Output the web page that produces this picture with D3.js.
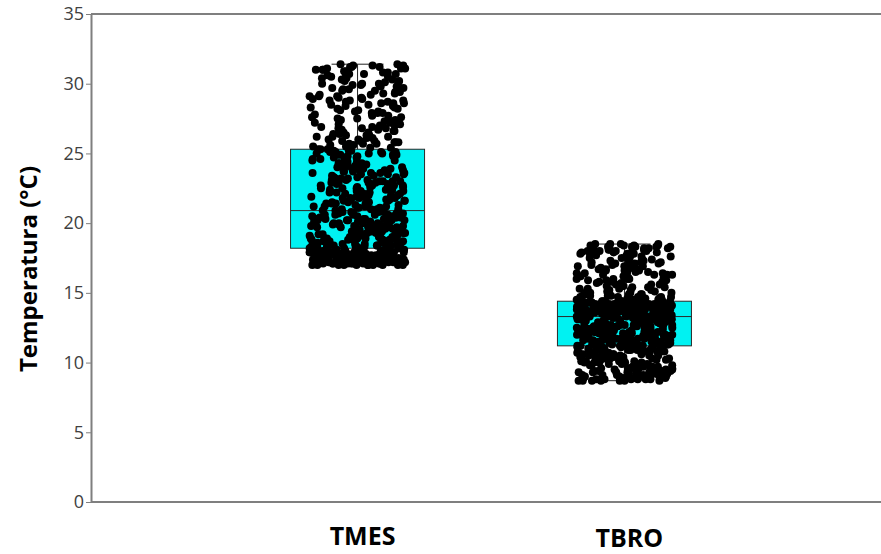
<!DOCTYPE html>
<html>
<head>
<meta charset="utf-8">
<script src="https://cdn.jsdelivr.net/npm/d3@7"></script>
<style>
    body { margin: 0; background: #fff; }
    svg { display: block; }
</style>
</head>
<body>
<div id="chart"></div>
<script>
var width = 881, height = 554;

// groups and box summary
var categories = ["TMES", "TBRO"];
var boxQ1 = [18.2, 11.2];
var boxMedian = [20.9, 13.3];
var boxQ3 = [25.3, 14.4];
var whiskerLow = [17.0, 8.7];
var whiskerHigh = [31.4, 18.5];
var yTicks = [0, 5, 10, 15, 20, 25, 30, 35];

// individual observations (estimated from the dot cloud)
var tmesValues = [
    17.3, 17.9, 17.1, 18.0, 17.6, 17.2, 17.8, 17.4, 18.1, 17.0, 17.7, 17.5, 17.2, 17.9, 17.3, 18.2, 17.6, 17.1, 17.8, 17.4,
    17.5, 17.0, 17.7, 18.0, 17.3, 17.2, 17.9, 17.6, 17.4, 18.1, 17.1, 17.8, 17.5, 17.2, 17.6, 17.9, 17.0, 17.3, 18.0, 17.7,
    17.4, 17.1, 17.8, 17.2, 17.5, 18.1, 17.6, 17.3, 17.9, 17.0, 17.4, 17.7, 18.2, 17.2, 17.5, 17.1, 17.8, 17.6, 17.3, 17.9,
    17.0, 17.4, 18.0, 17.7, 17.2, 17.5, 17.1, 17.8, 17.3, 17.6, 18.1, 17.4, 17.0, 17.9, 17.2, 17.5, 17.7, 17.3, 17.8, 17.1,
    17.6, 18.0, 17.4, 17.2, 17.9, 17.5, 17.0, 17.7, 17.3, 18.2, 17.1, 17.6, 17.8, 17.4, 17.2, 17.5, 17.9, 17.3, 17.0, 17.7,
    18.5, 19.7, 20.3, 18.9, 19.2, 20.8, 18.3, 19.9, 20.5, 18.7, 19.4, 20.1, 18.4, 19.6, 20.7, 19.0, 18.6, 20.2, 19.3, 20.6,
    18.8, 19.8, 20.4, 18.2, 19.1, 20.0, 18.5, 19.5, 20.9, 18.9, 19.7, 20.3, 18.3, 19.2, 20.6, 18.7, 19.9, 20.1, 18.4, 19.4,
    20.8, 18.6, 19.6, 20.2, 19.0, 18.8, 20.5, 19.3, 18.3, 20.7, 19.8, 18.5, 20.0, 19.1, 18.9, 20.4, 19.5, 18.4, 20.9, 19.7,
    18.2, 20.3, 19.2, 18.7, 20.6, 19.9, 18.6, 20.1, 19.4, 18.8, 20.8, 19.0, 18.3, 20.5, 19.6, 18.9, 20.2, 19.3, 18.5, 20.7,
    19.8, 18.4, 20.0, 19.1, 18.6, 20.4, 19.5, 18.8, 20.9, 19.7, 18.3, 20.3, 19.2, 18.7, 20.1, 19.9, 18.5, 20.6, 19.4, 18.9,
    21.4, 23.8, 22.1, 24.9, 21.0, 23.2, 24.5, 22.7, 21.8, 25.1, 22.4, 23.5, 21.2, 24.2, 22.9, 21.6, 25.3, 23.0, 24.7, 22.2,
    21.9, 24.0, 23.6, 21.3, 22.6, 25.0, 23.3, 21.7, 24.4, 22.0, 23.9, 21.1, 24.8, 22.5, 23.1, 21.5, 25.2, 22.8, 24.1, 23.4,
    21.0, 22.3, 24.6, 23.7, 21.8, 25.1, 22.1, 24.3, 21.4, 23.0, 24.9, 22.7, 21.2, 23.6, 24.0, 22.4, 21.6, 25.3, 23.2, 22.9,
    24.5, 21.3, 23.8, 22.0, 24.2, 21.9, 23.3, 25.0, 22.6, 21.5, 24.7, 23.5, 22.2, 21.1, 24.4, 23.9, 22.8, 21.7, 25.2, 23.1,
    22.5, 24.1, 21.4, 23.7, 24.8, 22.3, 21.0, 23.4, 24.6, 22.9, 21.8, 25.1, 23.0, 22.1, 24.3, 21.6, 23.6, 24.9, 22.7, 21.2,
    26.8, 29.4, 25.6, 30.7, 27.9, 28.5, 25.9, 31.2, 27.1, 29.9, 26.3, 28.8, 30.2, 25.4, 27.6, 29.1, 31.0, 26.6, 28.2, 30.5,
    25.8, 27.3, 29.6, 26.1, 31.4, 28.0, 30.0, 26.9, 27.7, 29.3, 25.5, 30.8, 28.6, 26.4, 31.1, 27.4, 29.7, 25.7, 28.3, 30.3,
    26.7, 29.0, 27.2, 31.3, 25.9, 28.9, 30.6, 26.2, 27.8, 29.5, 25.6, 30.1, 28.4, 26.5, 31.2, 27.0, 29.8, 26.0, 28.7, 30.9,
    25.4, 27.5, 29.2, 26.8, 30.4, 28.1, 31.0, 25.8, 27.9, 29.4, 26.3, 30.7, 28.5, 27.1, 31.4, 25.7, 29.6, 26.6, 28.0, 30.2,
    27.6, 25.5, 29.1, 26.9, 30.8, 28.2, 31.3, 26.1, 27.3, 29.9, 25.6, 30.5, 28.8, 26.4, 31.1, 27.7, 29.0, 26.2, 28.6, 30.0,
    17.2, 17.6, 17.0, 17.9, 17.4, 18.1, 17.3, 17.7, 17.1, 17.8, 17.5, 18.0, 17.2, 17.6, 17.4, 17.9, 17.0, 17.3, 17.7, 18.2,
    17.1, 17.5, 17.8, 17.3, 17.6, 17.0, 17.9, 17.4, 18.1, 17.2, 17.7, 17.5, 17.1, 18.0, 17.4, 17.8, 17.3, 17.6, 17.2, 17.9,
    19.1, 20.5, 18.4, 19.8, 20.2, 18.7, 19.4, 20.8, 18.3, 19.6, 20.0, 18.9, 19.3, 20.6, 18.5, 19.9, 20.3, 18.8, 19.2, 20.7,
    18.6, 19.5, 20.1, 18.2, 19.7, 20.4, 18.9, 19.0, 20.9, 18.4, 19.6, 20.2, 18.7, 19.3, 20.5, 18.5, 19.8, 20.0, 18.3, 19.4,
    22.4, 24.6, 21.1, 23.3, 25.0, 21.7, 22.9, 24.1, 21.3, 23.8, 22.2, 24.8, 21.5, 23.0, 25.2, 22.6, 21.9, 24.3, 23.5, 22.0,
    21.2, 24.7, 23.1, 22.8, 25.1, 21.6, 23.9, 22.3, 24.4, 21.0, 23.6, 22.5, 24.9, 21.8, 23.2, 24.0, 22.7, 21.4, 25.3, 23.7,
    28.4, 30.6, 26.0, 29.3, 27.5, 31.2, 25.7, 28.9, 30.1, 26.7, 29.8, 27.2, 31.0, 25.9, 28.6, 30.4, 26.5, 29.5, 27.8, 30.9,
    28.1, 26.2, 29.1, 31.3, 27.0, 30.3, 25.5, 28.7, 29.7, 26.8, 31.1, 27.4, 30.0, 28.3, 26.3, 29.2, 30.7, 27.9, 25.8, 28.8
];

var tbroValues = [
    9.4, 10.6, 8.9, 11.0, 9.8, 10.2, 8.7, 10.9, 9.2, 10.4, 9.6, 11.2, 8.8, 10.0, 9.5, 10.7, 9.1, 10.3, 9.9, 8.9,
    10.8, 9.3, 10.1, 8.7, 11.1, 9.7, 10.5, 9.0, 10.9, 9.4, 8.8, 10.6, 9.8, 11.0, 9.2, 10.2, 9.6, 8.9, 10.4, 9.1,
    11.2, 9.5, 10.0, 8.7, 10.7, 9.3, 10.3, 9.9, 8.8, 11.1, 9.6, 10.8, 9.0, 10.1, 9.4, 10.5, 8.9, 9.7, 11.0, 9.2,
    10.6, 9.8, 8.7, 10.9, 9.1, 10.2, 9.5, 11.2, 8.8, 10.4, 9.3, 10.0, 9.9, 8.9, 10.7, 9.6, 11.1, 9.0, 10.3, 9.4,
    8.8, 10.8, 9.7, 10.1, 9.2, 11.0, 8.9, 10.5, 9.5, 10.6, 9.0, 8.7, 10.9, 9.8, 10.2, 9.3, 11.2, 9.1, 10.4, 9.6,
    11.8, 12.6, 11.3, 13.1, 12.2, 11.6, 12.9, 11.4, 12.4, 13.3, 11.9, 12.0, 11.5, 12.8, 13.0, 11.7, 12.3, 11.2, 12.7, 13.2,
    12.1, 11.6, 12.5, 11.3, 13.1, 12.9, 11.8, 12.2, 11.4, 12.6, 13.0, 11.9, 12.4, 11.5, 13.3, 12.0, 11.7, 12.8, 11.2, 12.3,
    13.2, 11.6, 12.7, 12.1, 11.3, 12.5, 13.0, 11.8, 12.9, 11.4, 12.2, 13.1, 11.9, 12.6, 11.5, 12.4, 13.3, 11.7, 12.0, 12.8,
    11.2, 12.3, 13.2, 11.6, 12.7, 11.8, 12.1, 13.0, 11.3, 12.5, 11.9, 12.9, 11.4, 12.2, 13.1, 11.7, 12.6, 11.5, 12.4, 13.3,
    12.0, 11.8, 12.8, 11.6, 13.2, 12.3, 11.3, 12.7, 11.9, 12.1, 13.0, 11.4, 12.5, 11.7, 12.9, 11.2, 12.2, 13.1, 11.5, 12.6,
    13.7, 14.1, 13.4, 13.9, 14.3, 13.5, 14.0, 13.8, 14.4, 13.6, 13.3, 14.2, 13.9, 13.5, 14.1, 13.7, 14.3, 13.4, 14.0, 13.6,
    13.8, 14.2, 13.3, 13.9, 14.4, 13.5, 14.1, 13.7, 13.4, 14.0, 13.6, 14.3, 13.8, 14.2, 13.5, 13.9, 14.1, 13.3, 14.4, 13.7,
    13.6, 14.0, 13.4, 14.2, 13.8, 13.5, 14.3, 13.9, 14.1, 13.7, 13.3, 14.4, 13.6, 14.0, 13.8, 13.4, 14.2, 13.9, 13.5, 14.1,
    14.3, 13.7, 14.0, 13.6, 13.4, 14.4, 13.8, 14.2, 13.5, 13.9, 14.1, 13.3, 13.7, 14.3, 13.6, 14.0, 13.8, 13.4, 14.2, 13.9,
    13.5, 14.1, 13.7, 14.4, 13.3, 13.9, 14.0, 13.6, 14.3, 13.8, 13.4, 14.2, 13.5, 14.1, 13.7, 13.9, 14.4, 13.6, 14.0, 13.8,
    15.2, 17.6, 14.7, 16.3, 18.1, 15.8, 14.5, 17.0, 16.6, 18.4, 15.0, 17.3, 14.9, 16.0, 17.9, 15.5, 18.5, 16.8, 14.6, 17.4,
    16.2, 18.0, 15.3, 17.7, 14.8, 16.5, 18.3, 15.7, 17.1, 14.5, 16.9, 18.2, 15.1, 17.5, 16.1, 14.7, 17.8, 15.9, 18.4, 16.4,
    15.4, 17.2, 14.6, 18.1, 16.7, 15.6, 17.9, 14.9, 16.3, 18.5, 15.0, 17.6, 16.0, 14.5, 18.2, 15.8, 17.3, 16.6, 14.8, 17.0,
    18.3, 15.2, 16.8, 17.7, 14.6, 16.2, 18.0, 15.5, 17.4, 14.7, 16.5, 18.4, 15.3, 17.1, 16.9, 14.9, 17.8, 15.7, 18.1, 16.1,
    15.9, 17.5, 14.5, 18.3, 16.4, 15.1, 17.2, 16.7, 14.8, 18.5, 15.4, 17.9, 16.0, 14.6, 18.2, 15.6, 17.6, 16.3, 14.7, 18.0,
    9.3, 10.5, 8.8, 10.9, 9.7, 10.1, 9.0, 11.1, 9.5, 10.3, 8.9, 10.7, 9.2, 10.0, 9.8, 11.0, 8.7, 10.4, 9.4, 10.8,
    9.1, 9.9, 10.6, 8.8, 11.2, 9.6, 10.2, 9.0, 10.9, 9.3, 8.9, 10.5, 9.7, 11.1, 9.5, 10.0, 8.7, 10.7, 9.2, 10.3,
    12.3, 11.5, 12.9, 11.8, 13.2, 12.0, 11.3, 12.6, 13.0, 11.7, 12.4, 11.4, 12.8, 13.3, 11.9, 12.2, 11.6, 12.7, 13.1, 12.1,
    11.2, 12.5, 11.8, 13.0, 12.9, 11.5, 12.3, 11.7, 13.2, 12.0, 11.4, 12.6, 11.9, 12.8, 11.3, 12.4, 13.1, 11.6, 12.2, 12.7,
    13.8, 14.2, 13.5, 14.0, 13.4, 14.3, 13.7, 13.9, 14.1, 13.6, 14.4, 13.3, 13.8, 14.0, 13.5, 14.2, 13.7, 13.4, 14.3, 13.9,
    13.6, 14.1, 13.8, 14.4, 13.5, 13.3, 14.0, 13.7, 14.2, 13.9, 13.4, 14.3, 13.6, 14.1, 13.8, 13.5, 14.0, 13.7, 14.4, 13.9,
    17.1, 15.6, 18.2, 16.4, 14.8, 17.7, 15.3, 18.0, 16.9, 14.6, 17.4, 15.9, 18.4, 16.2, 15.0, 17.8, 16.6, 14.5, 18.3, 15.5,
    17.2, 16.0, 18.5, 14.9, 17.5, 16.7, 15.2, 18.1, 16.3, 14.7, 17.9, 15.8, 17.0, 18.3, 16.5, 15.1, 17.6, 18.2, 16.8, 15.4
];

var groupValues = [tmesValues, tbroValues];

var svg = d3.select("#chart")
    .append("svg")
    .attr("width", width)
    .attr("height", height);

var y = d3.scaleLinear().domain([0, 35]).range([502, 14]);
var x = d3.scalePoint().domain(categories).range([96, 886]).padding(0.98);
var jitter = d3.scaleLinear().domain([0, 1]).range([-48, 48]);
var boxHalf = 67, capHalf = 26;

// spread dots sideways with a fixed hash so the layout is stable
function spread(i) {
    var s = Math.sin((i + 1) * 12.9898) * 43758.5453;
    return s - Math.floor(s);
}

// frame lines
svg.append("line")
    .attr("x1", 91).attr("x2", width)
    .attr("y1", y(35)).attr("y2", y(35))
    .attr("stroke", "#7f7f7f").attr("stroke-width", 2);
svg.append("line")
    .attr("x1", 91).attr("x2", width)
    .attr("y1", y(0)).attr("y2", y(0))
    .attr("stroke", "#7f7f7f").attr("stroke-width", 2);

var yAxis = svg.append("g")
    .attr("transform", "translate(91,0)")
    .call(d3.axisLeft(y).tickValues(yTicks).tickSize(5).tickPadding(2).tickSizeOuter(0));
yAxis.select(".domain").attr("stroke", "#7f7f7f").attr("stroke-width", 2);
yAxis.selectAll(".tick line").attr("stroke", "#7f7f7f");
yAxis.selectAll(".tick text")
    .attr("fill", "#404040")
    .style("font-family", "'Open Sans', sans-serif")
    .style("font-size", "18px");

svg.append("text")
    .attr("transform", "translate(37,269) rotate(-90)")
    .attr("text-anchor", "middle")
    .style("font-family", "'Open Sans', sans-serif")
    .style("font-weight", "bold")
    .style("font-size", "24px")
    .attr("fill", "#000")
    .text("Temperatura (°C)");

// boxes
var groups = svg.selectAll("g.group")
    .data(categories)
    .enter()
    .append("g")
    .attr("class", "group");

groups.append("line")
    .attr("x1", function (d) { return x(d); })
    .attr("x2", function (d) { return x(d); })
    .attr("y1", function (d, i) { return y(whiskerHigh[i]); })
    .attr("y2", function (d, i) { return y(whiskerLow[i]); })
    .attr("stroke", "#222");
[whiskerHigh, whiskerLow].forEach(function (w) {
    groups.append("line")
        .attr("x1", function (d) { return x(d) - capHalf; })
        .attr("x2", function (d) { return x(d) + capHalf; })
        .attr("y1", function (d, i) { return y(w[i]); })
        .attr("y2", function (d, i) { return y(w[i]); })
        .attr("stroke", "#222");
});
groups.append("rect")
    .attr("x", function (d) { return x(d) - boxHalf; })
    .attr("width", boxHalf * 2)
    .attr("y", function (d, i) { return y(boxQ3[i]); })
    .attr("height", function (d, i) { return y(boxQ1[i]) - y(boxQ3[i]); })
    .attr("fill", "#00f2f2")
    .attr("stroke", "#2a2a2a");
groups.append("line")
    .attr("x1", function (d) { return x(d) - boxHalf; })
    .attr("x2", function (d) { return x(d) + boxHalf; })
    .attr("y1", function (d, i) { return y(boxMedian[i]); })
    .attr("y2", function (d, i) { return y(boxMedian[i]); })
    .attr("stroke", "#2a2a2a");

// dots
groups.each(function (cat, gi) {
    d3.select(this).selectAll("circle")
        .data(groupValues[gi])
        .enter()
        .append("circle")
        .attr("cx", function (v, i) { return x(cat) + jitter(spread(i + gi * 1000)); })
        .attr("cy", function (v) { return y(v); })
        .attr("r", 4)
        .attr("fill", "#000");
});

// category labels
svg.selectAll("text.cat")
    .data(categories)
    .enter()
    .append("text")
    .attr("class", "cat")
    .attr("x", function (d) { return x(d) + 5; })
    .attr("y", function (d, i) { return 545 + i * 2; })
    .attr("text-anchor", "middle")
    .style("font-family", "'Open Sans', sans-serif")
    .style("font-weight", "bold")
    .style("font-size", "25px")
    .attr("fill", "#000")
    .text(function (d) { return d; });
</script>
</body>
</html>
